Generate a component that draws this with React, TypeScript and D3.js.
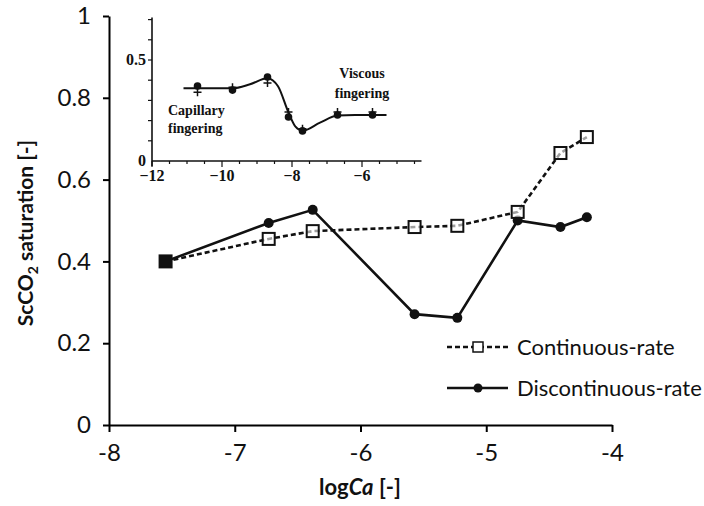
import { useEffect, useRef } from "react";
import * as d3 from "d3";

// main chart data (logCa vs ScCO2 saturation)
const logCa = [-7.55, -6.73, -6.38, -5.57, -5.23, -4.75, -4.41, -4.2];
const continuousRate = [0.4, 0.455, 0.474, 0.484, 0.487, 0.521, 0.665, 0.704];
const discontinuousRate = [0.4, 0.494, 0.526, 0.271, 0.262, 0.5, 0.484, 0.508];
const xTicks = [-8, -7, -6, -5, -4];
const yTicks = [0, 0.2, 0.4, 0.6, 0.8, 1];

// inset data
const insetX = [-10.7, -9.7, -8.7, -8.1, -7.7, -6.7, -5.7];
const insetCircles = [0.371, 0.351, 0.416, 0.218, 0.149, 0.228, 0.228];
const insetPlus = [0.34, 0.365, 0.386, 0.243, 0.16, 0.243, 0.243];
const insetCurveX = [-11.1, -10.7, -9.7, -9.2, -8.7, -8.4, -8.1, -7.9, -7.7, -7.2, -6.7, -6.2, -5.3];
const insetCurveY = [0.36, 0.36, 0.36, 0.38, 0.41, 0.37, 0.24, 0.17, 0.15, 0.19, 0.225, 0.228, 0.228];
const insetXLabels = [-12, -10, -8, -6];
const insetYLabels = [0, 0.5];

const W = 704;
const H = 506;
const sans = "Lato, 'Open Sans', sans-serif";
const serif = "'Liberation Serif', 'DejaVu Serif', serif";

export default function App() {
  const ref = useRef<SVGSVGElement>(null);

  useEffect(() => {
    if (!ref.current) return;
    const svg = d3.select(ref.current);
    svg.selectAll("*").remove();

    const x = d3.scaleLinear().domain([-8, -4]).range([109, 612]);
    const y = d3.scaleLinear().domain([0, 1]).range([425, 16]);

    // axes
    const ax = svg.append("g").attr("transform", `translate(0,${y(0)})`)
      .call(d3.axisBottom(x).tickValues(xTicks).tickSize(7).tickSizeOuter(0).tickPadding(12).tickFormat(d => String(d)));
    ax.select(".domain").attr("stroke-width", 2);
    ax.selectAll(".tick line").attr("stroke-width", 2);
    ax.selectAll("text").attr("font-family", sans).attr("font-size", 24).attr("fill", "#111");

    const ay = svg.append("g").attr("transform", `translate(${x(-8)},0)`)
      .call(d3.axisLeft(y).tickValues(yTicks).tickSize(6).tickSizeOuter(0).tickPadding(12).tickFormat(d => String(d)));
    ay.select(".domain").attr("stroke-width", 2);
    ay.selectAll(".tick line").attr("stroke-width", 2);
    ay.selectAll("text").attr("font-family", sans).attr("font-size", 24).attr("fill", "#111");

    // axis titles
    const xt = svg.append("text").attr("x", 360).attr("y", 495).attr("text-anchor", "middle")
      .attr("font-family", sans).attr("font-size", 22).attr("font-weight", "bold").attr("fill", "#111");
    xt.append("tspan").text("log");
    xt.append("tspan").attr("font-style", "italic").text("Ca");
    xt.append("tspan").text(" [-]");

    const yt = svg.append("text").attr("transform", "translate(33,233) rotate(-90)").attr("text-anchor", "middle")
      .attr("font-family", sans).attr("font-size", 21).attr("font-weight", "bold").attr("fill", "#111");
    yt.append("tspan").text("ScCO");
    yt.append("tspan").attr("font-size", 14).attr("dy", 5).text("2");
    yt.append("tspan").attr("dy", -5).text(" saturation  [-]");

    const line = d3.line<number>().x((_, i) => x(logCa[i]));

    // continuous-rate (dashed, open squares)
    svg.append("path").attr("d", line.y(d => y(d))(continuousRate))
      .attr("fill", "none").attr("stroke", "#111").attr("stroke-width", 2.6).attr("stroke-dasharray", "5,3");
    // discontinuous-rate (solid, filled circles)
    svg.append("path").attr("d", line.y(d => y(d))(discontinuousRate))
      .attr("fill", "none").attr("stroke", "#111").attr("stroke-width", 2.6);

    svg.append("g").selectAll("circle").data(discontinuousRate).join("circle")
      .attr("cx", (_, i) => x(logCa[i])).attr("cy", d => y(d)).attr("r", 5).attr("fill", "#111");
    svg.append("g").selectAll("rect").data(continuousRate).join("rect")
      .attr("x", (_, i) => x(logCa[i]) - 6).attr("y", d => y(d) - 6).attr("width", 12).attr("height", 12)
      .attr("fill", (_, i) => (i === 0 ? "#111" : "white")).attr("fill-opacity", (_, i) => (i === 0 ? 1 : 0.6))
      .attr("stroke", "#111").attr("stroke-width", 2);

    // legend
    const lg = svg.append("g").attr("font-family", sans).attr("font-size", 22).attr("fill", "#111");
    lg.append("line").attr("x1", 447).attr("x2", 508).attr("y1", 347).attr("y2", 347)
      .attr("stroke", "#111").attr("stroke-width", 2.5).attr("stroke-dasharray", "5,3");
    lg.append("rect").attr("x", 473).attr("y", 342).attr("width", 10).attr("height", 10)
      .attr("fill", "white").attr("stroke", "#111").attr("stroke-width", 1.5);
    lg.append("text").attr("x", 517).attr("y", 355).text("Continuous-rate");
    lg.append("line").attr("x1", 447).attr("x2", 508).attr("y1", 388).attr("y2", 388)
      .attr("stroke", "#111").attr("stroke-width", 2.5);
    lg.append("circle").attr("cx", 478).attr("cy", 388).attr("r", 4.5).attr("fill", "#111");
    lg.append("text").attr("x", 517).attr("y", 396).text("Discontinuous-rate");

    // inset
    const ix = d3.scaleLinear().domain([-12, -4]).range([152, 432]);
    const iy = d3.scaleLinear().domain([0, 0.5]).range([161, 60]);
    const ins = svg.append("g").attr("stroke", "#111").attr("fill", "none");
    ins.append("line").attr("x1", ix(-12)).attr("x2", ix(-4.3)).attr("y1", iy(0)).attr("y2", iy(0)).attr("stroke-width", 1.6);
    ins.append("line").attr("x1", ix(-12)).attr("x2", ix(-12)).attr("y1", iy(0) + 5).attr("y2", iy(0.71)).attr("stroke-width", 1.6);
    d3.range(-12, -4.4, 0.5).forEach(t => {
      const major = Math.abs(t % 2) < 1e-6;
      ins.append("line").attr("x1", ix(t)).attr("x2", ix(t)).attr("y1", iy(0)).attr("y2", iy(0) + (major ? 6 : 3)).attr("stroke-width", 1.2);
    });
    d3.range(0.1, 0.75, 0.1).forEach(t => {
      ins.append("line").attr("x1", ix(-12) - 4).attr("x2", ix(-12)).attr("y1", iy(t)).attr("y2", iy(t)).attr("stroke-width", 1.2);
    });

    const itext = svg.append("g").attr("font-family", serif).attr("fill", "#111");
    itext.selectAll(".ixl").data(insetXLabels).join("text").attr("class", "ixl")
      .attr("x", d => ix(d)).attr("y", 181).attr("text-anchor", "middle").attr("font-size", 16).attr("font-weight", "bold")
      .text(d => `\u2212${Math.abs(d)}`);
    itext.selectAll(".iyl").data(insetYLabels).join("text").attr("class", "iyl")
      .attr("x", 146).attr("y", d => iy(d) + 5).attr("text-anchor", "end").attr("font-size", 16).attr("font-weight", "bold")
      .text(d => String(d));

    const curve = d3.line<number>().x((_, i) => ix(insetCurveX[i])).y(d => iy(d)).curve(d3.curveMonotoneX);
    ins.append("path").attr("d", curve(insetCurveY)).attr("stroke-width", 2);

    svg.append("g").selectAll("circle").data(insetCircles).join("circle")
      .attr("cx", (_, i) => ix(insetX[i])).attr("cy", d => iy(d)).attr("r", 3.8).attr("fill", "#111");
    svg.append("g").selectAll("path").data(insetPlus).join("path")
      .attr("d", (d, i) => {
        const cx = ix(insetX[i]), cy = iy(d);
        return `M${cx - 4},${cy}H${cx + 4}M${cx},${cy - 4}V${cy + 4}`;
      })
      .attr("stroke", "#111").attr("stroke-width", 1.5);

    const cap = itext.append("text").attr("font-size", 14).attr("font-weight", "bold");
    cap.append("tspan").attr("x", 168).attr("y", 115).text("Capillary");
    cap.append("tspan").attr("x", 168).attr("y", 133).text("fingering");
    const vis = itext.append("text").attr("font-size", 14).attr("font-weight", "bold").attr("text-anchor", "middle");
    vis.append("tspan").attr("x", 362).attr("y", 78).text("Viscous");
    vis.append("tspan").attr("x", 362).attr("y", 98).text("fingering");
  }, []);

  return (
    <svg ref={ref} width={W} height={H}
      style={{ position: "absolute", left: 0, top: 0, background: "white", display: "block" }} />
  );
}
